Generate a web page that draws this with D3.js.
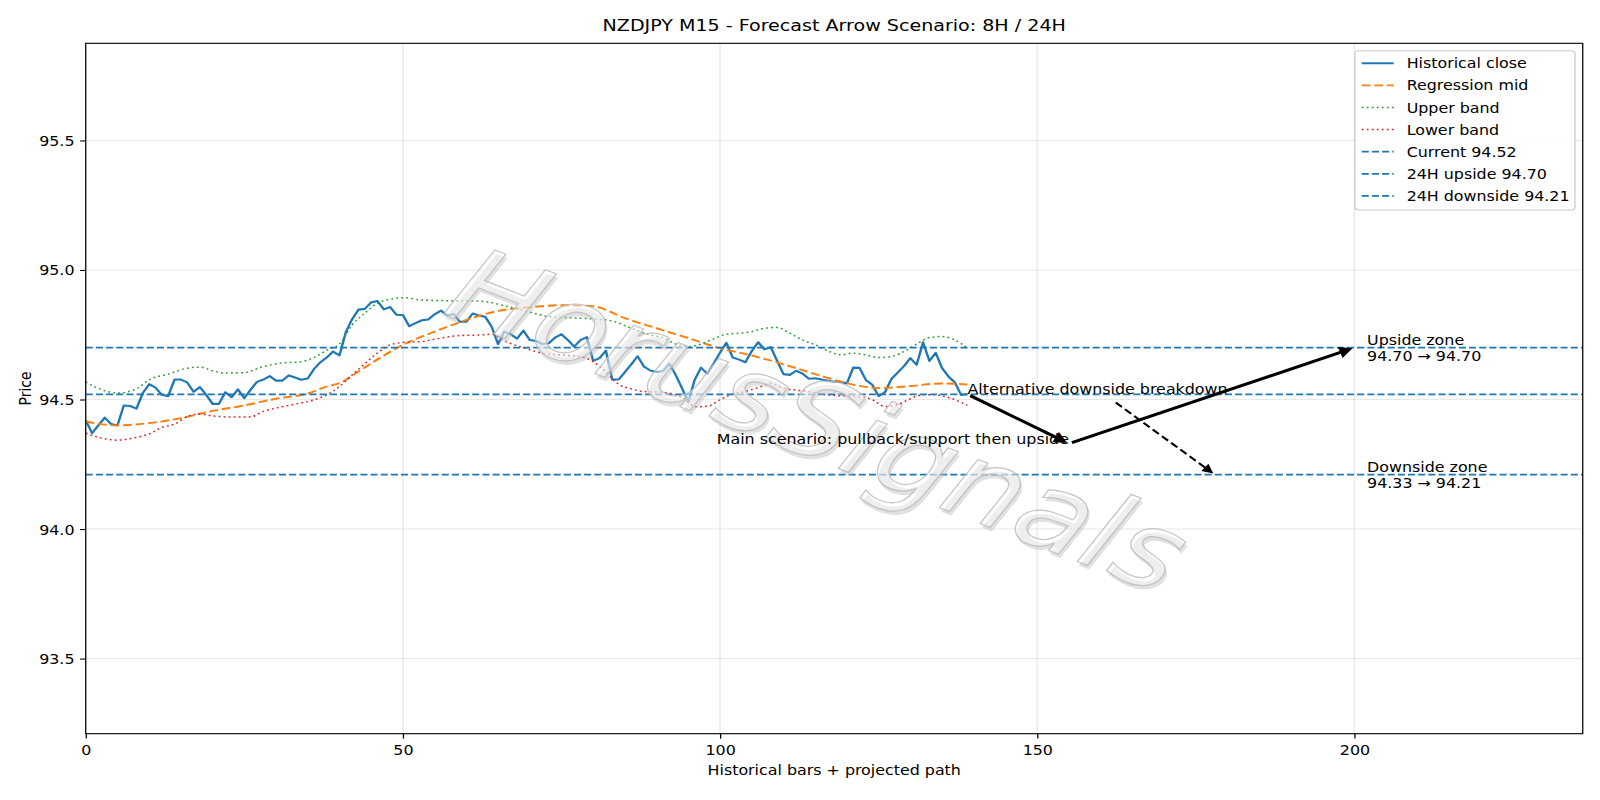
<!DOCTYPE html>
<html>
<head>
<meta charset="utf-8">
<script src="https://cdn.jsdelivr.net/npm/d3@7"></script>
<style>
  body { margin: 0; background: #fff; }
  text { font-family: "DejaVu Sans", sans-serif; }
</style>
</head>
<body>
<svg id="chart" width="1600" height="800"></svg>
<script>
// historical closes, one per bar (x = bar index)
var closeVals = [
  94.42, 94.37, 94.40, 94.43, 94.405, 94.40, 94.477, 94.475, 94.465, 94.525,
  94.559, 94.546, 94.518, 94.513, 94.577, 94.577, 94.566, 94.53, 94.548, 94.518,
  94.483, 94.483, 94.528, 94.509, 94.539, 94.505, 94.538, 94.568, 94.577, 94.59,
  94.573, 94.573, 94.593, 94.585, 94.576, 94.581, 94.618, 94.644, 94.662, 94.685,
  94.67, 94.76, 94.81, 94.847, 94.85, 94.875, 94.88, 94.848, 94.857, 94.827,
  94.826, 94.783, 94.795, 94.806, 94.809, 94.829, 94.843, 94.824, 94.83, 94.80,
  94.80, 94.832, 94.824, 94.819, 94.781, 94.714, 94.762, 94.752, 94.735, 94.766,
  94.73, 94.726, 94.714, 94.717, 94.739, 94.752, 94.73, 94.704, 94.729, 94.741,
  94.649, 94.66, 94.689, 94.577, 94.577, 94.606, 94.636, 94.667, 94.627, 94.612,
  94.606, 94.61, 94.638, 94.595, 94.544, 94.49, 94.576, 94.623, 94.599, 94.639,
  94.681, 94.719, 94.662, 94.654, 94.644, 94.687, 94.721, 94.694, 94.702, 94.649,
  94.598, 94.595, 94.611, 94.60, 94.58, 94.582, 94.577, 94.572, 94.568, 94.569,
  94.562, 94.623, 94.622, 94.575, 94.557, 94.513, 94.528, 94.579, 94.604, 94.629,
  94.66, 94.634, 94.721, 94.649, 94.68, 94.621, 94.589, 94.567, 94.518, 94.52
];

var midIdx  = [0, 5, 10, 15, 20, 25, 30, 35, 38, 40, 43, 46, 50, 55, 60, 65, 70, 75, 80, 85, 90, 95, 100, 105, 110, 115, 120, 125, 130, 135, 139];
var midVals = [94.415, 94.40, 94.409, 94.428, 94.456, 94.477, 94.503, 94.523, 94.55, 94.563, 94.608, 94.655, 94.711, 94.762, 94.807, 94.842, 94.856, 94.864, 94.86, 94.814, 94.775, 94.737, 94.698, 94.67, 94.636, 94.598, 94.563, 94.544, 94.552, 94.562, 94.558];

var upperIdx  = [0, 5, 8, 10, 13, 16, 18, 20, 22, 25, 28, 31, 34, 36, 38, 40, 42, 44, 46, 48, 50, 53, 56, 60, 63, 66, 70, 73, 76, 80, 83, 86, 89, 91, 93, 95, 97, 99, 101, 103, 105, 107, 109, 111, 113, 115, 117, 119, 121, 123, 125, 127, 129, 131, 133, 135, 137, 139];
var upperVals = [94.567, 94.525, 94.541, 94.576, 94.598, 94.621, 94.625, 94.611, 94.602, 94.604, 94.627, 94.641, 94.646, 94.662, 94.69, 94.714, 94.788, 94.833, 94.872, 94.887, 94.893, 94.884, 94.882, 94.881, 94.878, 94.862, 94.837, 94.82, 94.816, 94.811, 94.803, 94.775, 94.749, 94.739, 94.714, 94.704, 94.714, 94.734, 94.752, 94.756, 94.762, 94.775, 94.778, 94.756, 94.73, 94.711, 94.688, 94.672, 94.679, 94.672, 94.662, 94.666, 94.685, 94.714, 94.739, 94.743, 94.73, 94.698];

var lowerIdx  = [0, 2, 5, 8, 10, 12, 14, 16, 18, 20, 23, 26, 28, 30, 33, 36, 38, 40, 42, 44, 46, 48, 50, 53, 56, 59, 62, 64, 66, 69, 72, 75, 78, 80, 82, 84, 86, 88, 91, 93, 95, 96, 98, 100, 102, 104, 106, 108, 110, 112, 114, 116, 118, 120, 122, 124, 126, 128, 130, 132, 134, 136, 139];
var lowerVals = [94.37, 94.354, 94.343, 94.354, 94.367, 94.392, 94.405, 94.434, 94.444, 94.437, 94.432, 94.433, 94.454, 94.467, 94.482, 94.499, 94.518, 94.55, 94.595, 94.638, 94.68, 94.711, 94.72, 94.724, 94.737, 94.747, 94.749, 94.752, 94.726, 94.70, 94.679, 94.672, 94.666, 94.646, 94.606, 94.559, 94.541, 94.531, 94.528, 94.518, 94.492, 94.472, 94.474, 94.499, 94.521, 94.531, 94.546, 94.562, 94.544, 94.536, 94.531, 94.521, 94.516, 94.513, 94.511, 94.499, 94.473, 94.48, 94.503, 94.518, 94.518, 94.508, 94.477];

// reference levels
var levelNames = ['Current 94.52', '24H upside 94.70', '24H downside 94.21'];
var levelVals = [94.52, 94.70, 94.21];

// projected paths
var mainIdx  = [139, 155, 200];
var mainVals = [94.52, 94.33, 94.70];
var altIdx  = [162, 178];
var altVals = [94.495, 94.21];

var zoneLabels = [['Upside zone', '94.70 \u2192 94.70'], ['Downside zone', '94.33 \u2192 94.21']];
var zoneVals = [94.70, 94.21];
var zoneIdx = 202;

var xTicks = [0, 50, 100, 150, 200];
var yTicks = [93.5, 94.0, 94.5, 95.0, 95.5];

var blue = '#1f77b4', orange = '#ff7f0e', green = '#2ca02c', red = '#d62728';

// drawn in a 1400 wide space and stretched to 1600, like the reference
var W = 1400, H = 800;
var svg = d3.select('svg#chart')
  .attr('viewBox', '0 0 ' + W + ' ' + H)
  .attr('preserveAspectRatio', 'none');

var plotL = 75, plotR = 1384.9, plotT = 43.3, plotB = 733.7;

var x = d3.scaleLinear().domain([0, 236]).range([plotL, plotR]);
var y = d3.scaleLinear().domain([93.21, 95.875]).range([plotB, plotT]);

svg.append('defs').append('clipPath').attr('id', 'plot')
  .append('rect').attr('x', plotL).attr('y', plotT)
  .attr('width', plotR - plotL).attr('height', plotB - plotT);

// grid
svg.append('g').selectAll('line').data(xTicks).enter().append('line')
  .attr('x1', d => x(d)).attr('x2', d => x(d))
  .attr('y1', plotT).attr('y2', plotB)
  .attr('stroke', '#b0b0b0').attr('stroke-opacity', 0.3).attr('stroke-width', 1.1);
svg.append('g').selectAll('line').data(yTicks).enter().append('line')
  .attr('x1', plotL).attr('x2', plotR)
  .attr('y1', d => y(d)).attr('y2', d => y(d))
  .attr('stroke', '#b0b0b0').attr('stroke-opacity', 0.3).attr('stroke-width', 1.1);

var plot = svg.append('g').attr('clip-path', 'url(#plot)');

var line = d3.line().x(d => x(d[0])).y(d => y(d[1]));
var smooth = d3.line().x(d => x(d[0])).y(d => y(d[1])).curve(d3.curveMonotoneX);

function pairs(idx, vals) { return idx.map((d, i) => [d, vals[i]]); }

plot.append('path').datum(closeVals.map((v, i) => [i, v]))
  .attr('d', line).attr('fill', 'none')
  .attr('stroke', blue).attr('stroke-width', 2.1).attr('stroke-linejoin', 'round');

plot.append('path').datum(pairs(midIdx, midVals))
  .attr('d', smooth).attr('fill', 'none')
  .attr('stroke', orange).attr('stroke-width', 1.9).attr('stroke-dasharray', '7.7,3.3');

plot.append('path').datum(pairs(upperIdx, upperVals))
  .attr('d', smooth).attr('fill', 'none')
  .attr('stroke', green).attr('stroke-width', 1.5).attr('stroke-dasharray', '1.6,2.8');

plot.append('path').datum(pairs(lowerIdx, lowerVals))
  .attr('d', smooth).attr('fill', 'none')
  .attr('stroke', red).attr('stroke-width', 1.5).attr('stroke-dasharray', '1.6,2.8');

plot.selectAll('line.level').data(levelVals).enter().append('line')
  .attr('class', 'level')
  .attr('x1', plotL).attr('x2', plotR)
  .attr('y1', d => y(d)).attr('y2', d => y(d))
  .attr('stroke', blue).attr('stroke-width', 1.67).attr('stroke-dasharray', '6.2,2.7');

// watermark, light and see-through
var wm = svg.append('g').attr('transform', 'translate(716,420) rotate(24)');
wm.append('text').text('HorusSignals')
  .attr('x', 3).attr('y', 3).attr('dy', '0.35em')
  .attr('text-anchor', 'middle').attr('font-size', 106).attr('font-style', 'italic')
  .attr('fill', '#bdbdbd').attr('fill-opacity', 0.45);
wm.append('text').text('HorusSignals')
  .attr('dy', '0.35em')
  .attr('text-anchor', 'middle').attr('font-size', 106).attr('font-style', 'italic')
  .attr('fill', '#ffffff').attr('fill-opacity', 0.45)
  .attr('stroke', '#bcbcbc').attr('stroke-opacity', 0.85).attr('stroke-width', 1.2);

// arrows
function arrow(p0, p1, opts) {
  var x0 = x(p0[0]), y0 = y(p0[1]), x1 = x(p1[0]), y1 = y(p1[1]);
  var dx = x1 - x0, dy = y1 - y0, len = Math.sqrt(dx * dx + dy * dy);
  var ux = dx / len, uy = dy / len, s = 2.8;
  x0 += ux * s; y0 += uy * s; x1 -= ux * s; y1 -= uy * s;
  var hl = opts.head, hw = opts.head * 0.5;
  var bx = x1 - ux * hl, by = y1 - uy * hl;
  svg.append('line')
    .attr('x1', x0).attr('y1', y0).attr('x2', bx + ux * 1).attr('y2', by + uy * 1)
    .attr('stroke', '#000').attr('stroke-width', opts.width)
    .attr('stroke-dasharray', opts.dash || null);
  svg.append('path')
    .attr('d', 'M' + x1 + ',' + y1 + 'L' + (bx - uy * hw) + ',' + (by + ux * hw) +
      'L' + (bx + uy * hw) + ',' + (by - ux * hw) + 'Z')
    .attr('fill', '#000').attr('stroke', '#000').attr('stroke-width', 1).attr('stroke-linejoin', 'miter');
}

var mainPts = pairs(mainIdx, mainVals);
arrow(mainPts[0], mainPts[1], { width: 3, head: 10 });
arrow(mainPts[1], mainPts[2], { width: 3, head: 10 });
var altPts = pairs(altIdx, altVals);
arrow(altPts[0], altPts[1], { width: 2, head: 8, dash: '7,3.5' });

svg.append('text').text('Main scenario: pullback/support then upside')
  .attr('x', x(mainIdx[1])).attr('y', y(mainVals[1]))
  .attr('text-anchor', 'end').attr('font-size', 13.9).attr('fill', '#000');
svg.append('text').text('Alternative downside breakdown')
  .attr('x', x(mainIdx[0])).attr('y', y(mainVals[0]))
  .attr('font-size', 13.9).attr('fill', '#000');

zoneLabels.forEach(function (lines, k) {
  var t = svg.append('text').attr('font-size', 13.9).attr('fill', '#000');
  t.append('tspan').text(lines[0]).attr('x', x(zoneIdx)).attr('y', y(zoneVals[k]) - 3);
  t.append('tspan').text(lines[1]).attr('x', x(zoneIdx)).attr('y', y(zoneVals[k]) + 13.7);
});

// axes
var xAxis = svg.append('g').attr('transform', 'translate(0,' + plotB + ')')
  .call(d3.axisBottom(x).tickValues(xTicks).tickSize(4.9).tickPadding(4.9).tickFormat(d3.format('d')));
var yAxis = svg.append('g').attr('transform', 'translate(' + plotL + ',0)')
  .call(d3.axisLeft(y).tickValues(yTicks).tickSize(4.9).tickPadding(4.9).tickFormat(d3.format('.1f')));
[xAxis, yAxis].forEach(function (g) {
  g.select('.domain').remove();
  g.attr('font-size', 13.9).attr('font-family', '"DejaVu Sans", sans-serif');
  g.selectAll('.tick line').attr('stroke', '#000').attr('stroke-width', 1.1);
  g.selectAll('.tick text').attr('fill', '#000');
});
xAxis.selectAll('.tick text').attr('y', 21.8).attr('dy', null);
yAxis.selectAll('.tick text').attr('dy', '0.36em');

svg.append('rect')
  .attr('x', plotL).attr('y', plotT).attr('width', plotR - plotL).attr('height', plotB - plotT)
  .attr('fill', 'none').attr('stroke', '#000').attr('stroke-width', 1.1);

// titles
svg.append('text').text('NZDJPY M15 - Forecast Arrow Scenario: 8H / 24H')
  .attr('x', (plotL + plotR) / 2).attr('y', 31)
  .attr('text-anchor', 'middle').attr('font-size', 16.7).attr('fill', '#000');
svg.append('text').text('Historical bars + projected path')
  .attr('x', (plotL + plotR) / 2).attr('y', 775.5)
  .attr('text-anchor', 'middle').attr('font-size', 13.9).attr('fill', '#000');
svg.append('text').text('Price')
  .attr('transform', 'translate(27.3,' + ((plotT + plotB) / 2) + ') rotate(-90)')
  .attr('text-anchor', 'middle').attr('font-size', 13.9).attr('fill', '#000');

// legend
var legendItems = [
  { label: 'Historical close', color: blue, width: 2.1, dash: null },
  { label: 'Regression mid', color: orange, width: 1.9, dash: '7.7,3.3' },
  { label: 'Upper band', color: green, width: 1.5, dash: '1.6,2.8' },
  { label: 'Lower band', color: red, width: 1.5, dash: '1.6,2.8' }
].concat(levelNames.map(n => ({ label: n, color: blue, width: 1.67, dash: '6.2,2.7' })));

var lg = svg.append('g');
lg.append('rect')
  .attr('x', 1185.6).attr('y', 50.7).attr('width', 192.5).attr('height', 159.3)
  .attr('rx', 3).attr('fill', '#fff').attr('fill-opacity', 0.8)
  .attr('stroke', '#cccccc').attr('stroke-width', 1.1);
var rows = lg.selectAll('g.row').data(legendItems).enter().append('g')
  .attr('transform', (d, i) => 'translate(0,' + (63.3 + i * 22.1) + ')');
rows.append('line')
  .attr('x1', 1191.5).attr('x2', 1219.5).attr('y1', 0).attr('y2', 0)
  .attr('stroke', d => d.color).attr('stroke-width', d => d.width)
  .attr('stroke-dasharray', d => d.dash);
rows.append('text').text(d => d.label)
  .attr('x', 1230.8).attr('y', 5).attr('font-size', 13.9).attr('fill', '#000');
</script>
</body>
</html>
